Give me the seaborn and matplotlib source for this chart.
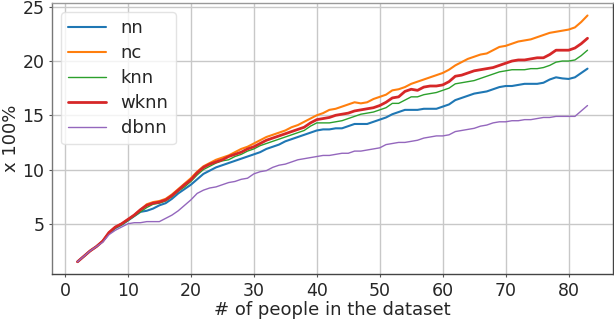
import matplotlib
matplotlib.use("Agg")
import matplotlib.pyplot as plt
import seaborn as sns
import pandas as pd
import numpy as np

x_people = list(range(2, 84))

nn = [1.5, 2.0, 2.5, 2.9, 3.4, 4.1, 4.6, 4.9, 5.3, 5.7, 6.1, 6.2, 6.4, 6.7, 6.9, 7.3, 7.8, 8.2, 8.6, 9.1,
      9.6, 9.9, 10.2, 10.4, 10.6, 10.8, 11.0, 11.2, 11.4, 11.6, 11.9, 12.1, 12.3, 12.6, 12.8, 13.0, 13.2, 13.4, 13.6, 13.7,
      13.7, 13.8, 13.8, 14.0, 14.2, 14.2, 14.2, 14.4, 14.6, 14.8, 15.1, 15.3, 15.5, 15.5, 15.5, 15.6, 15.6, 15.6, 15.8, 16.0,
      16.4, 16.6, 16.8, 17.0, 17.1, 17.2, 17.4, 17.6, 17.7, 17.7, 17.8, 17.9, 17.9, 17.9, 18.0, 18.3, 18.5, 18.4, 18.35, 18.5,
      18.9, 19.3]
nc = [1.5, 2.0, 2.5, 2.9, 3.4, 4.2, 4.7, 5.0, 5.4, 5.8, 6.3, 6.8, 7.0, 7.1, 7.3, 7.7, 8.2, 8.7, 9.2, 9.8,
      10.3, 10.6, 10.9, 11.1, 11.3, 11.6, 11.9, 12.1, 12.4, 12.7, 13.0, 13.2, 13.4, 13.6, 13.9, 14.1, 14.4, 14.7, 15.0, 15.2,
      15.5, 15.6, 15.8, 16.0, 16.2, 16.1, 16.2, 16.5, 16.7, 16.9, 17.3, 17.4, 17.6, 17.9, 18.1, 18.3, 18.5, 18.7, 18.9, 19.2,
      19.6, 19.9, 20.2, 20.4, 20.6, 20.7, 21.0, 21.3, 21.4, 21.6, 21.8, 21.9, 22.0, 22.2, 22.4, 22.6, 22.7, 22.8, 22.9, 23.1,
      23.6, 24.2]
knn = [1.5, 2.0, 2.5, 2.9, 3.4, 4.1, 4.6, 4.9, 5.3, 5.7, 6.1, 6.5, 6.8, 6.9, 7.1, 7.5, 8.0, 8.4, 8.9, 9.5,
       10.0, 10.3, 10.6, 10.8, 10.9, 11.2, 11.4, 11.7, 11.9, 12.2, 12.4, 12.6, 12.8, 13.0, 13.2, 13.4, 13.6, 14.0, 14.3, 14.3,
       14.3, 14.4, 14.5, 14.7, 14.9, 15.1, 15.2, 15.3, 15.5, 15.7, 16.1, 16.1, 16.4, 16.7, 16.7, 16.9, 17.0, 17.1, 17.3, 17.5,
       17.9, 18.0, 18.1, 18.2, 18.4, 18.6, 18.8, 19.0, 19.1, 19.2, 19.2, 19.2, 19.3, 19.3, 19.4, 19.6, 19.9, 20.0, 20.0, 20.1,
       20.5, 21.0]
wknn = [1.5, 2.0, 2.5, 2.9, 3.4, 4.2, 4.7, 5.0, 5.4, 5.8, 6.3, 6.7, 6.9, 7.0, 7.2, 7.6, 8.1, 8.6, 9.05, 9.7,
        10.2, 10.5, 10.7, 10.9, 11.2, 11.4, 11.6, 11.9, 12.1, 12.4, 12.7, 12.9, 13.1, 13.3, 13.5, 13.7, 13.9, 14.3, 14.6, 14.7,
        14.8, 15.0, 15.1, 15.2, 15.4, 15.5, 15.6, 15.7, 15.9, 16.2, 16.6, 16.7, 17.2, 17.4, 17.3, 17.6, 17.7, 17.7, 17.8, 18.1,
        18.6, 18.7, 18.9, 19.1, 19.2, 19.3, 19.4, 19.6, 19.8, 20.0, 20.1, 20.1, 20.2, 20.3, 20.3, 20.6, 21.0, 21.0, 21.0, 21.2,
        21.6, 22.1]
dbnn = [1.5, 2.0, 2.5, 2.9, 3.3, 4.0, 4.4, 4.7, 5.0, 5.1, 5.1, 5.2, 5.2, 5.2, 5.5, 5.8, 6.2, 6.7, 7.2, 7.8,
        8.1, 8.3, 8.4, 8.6, 8.8, 8.9, 9.1, 9.2, 9.6, 9.8, 9.9, 10.2, 10.4, 10.5, 10.7, 10.9, 11.0, 11.1, 11.2, 11.3,
        11.3, 11.4, 11.5, 11.5, 11.7, 11.7, 11.8, 11.9, 12.0, 12.3, 12.4, 12.5, 12.5, 12.6, 12.7, 12.9, 13.0, 13.1, 13.1, 13.2,
        13.5, 13.6, 13.7, 13.8, 14.0, 14.1, 14.3, 14.4, 14.4, 14.5, 14.5, 14.6, 14.6, 14.7, 14.8, 14.8, 14.9, 14.9, 14.9, 14.9,
        15.4, 15.9]

series_names = ["nn", "nc", "knn", "wknn", "dbnn"]
series_vals = [nn, nc, knn, wknn, dbnn]
widths = {"nn": 1.5, "nc": 1.5, "knn": 1.0, "wknn": 2.0, "dbnn": 1.0}
colors = {"nn": "#1f77b4", "nc": "#ff7f0e", "knn": "#2ca02c", "wknn": "#d62728", "dbnn": "#9467bd"}

rows = []
for name, vals in zip(series_names, series_vals):
    for xv, yv in zip(x_people, vals):
        rows.append({"people": xv, "value": yv, "method": name})
df = pd.DataFrame(rows)

sns.set_style("whitegrid")
plt.rcParams['font.family'] = ['DejaVu Sans']

fig = plt.figure(figsize=(6.14, 3.22), dpi=100)
ax = fig.add_axes([0.0847, 0.149, 0.9137, 0.841])

for name in series_names:
    sub = df[df["method"] == name]
    sns.lineplot(data=sub, x="people", y="value", ax=ax, color=colors[name],
                 linewidth=widths[name], label=name)

ax.set_xlim(-2.05, 87.05)
ax.set_ylim(0.37, 25.33)
ax.set_xticks(range(0, 81, 10))
ax.set_yticks([5, 10, 15, 20, 25])
ax.grid(True, color="#c8c8c8", linewidth=1.0)
for s in ax.spines.values():
    s.set_visible(True)
    s.set_color("#444444")
    s.set_linewidth(1.0)
ax.spines["left"].set_color("#777777")
ax.spines["top"].set_color("#999999")
ax.tick_params(axis="both", labelsize=12.5, length=2.5, width=0.8, color="#555555",
               direction="out", pad=3, left=True, bottom=True)
ax.set_xlabel("# of people in the dataset", fontsize=13, labelpad=1)
ax.set_ylabel("x 100%", fontsize=13, labelpad=2)
leg = ax.legend(loc="upper left", fontsize=13, frameon=True, fancybox=True,
                handlelength=2.1, handletextpad=0.8, borderpad=0.4, labelspacing=0.38,
                borderaxespad=0.5)
leg.get_frame().set_edgecolor("#dddddd")

fig.savefig("out.png", dpi=100)
